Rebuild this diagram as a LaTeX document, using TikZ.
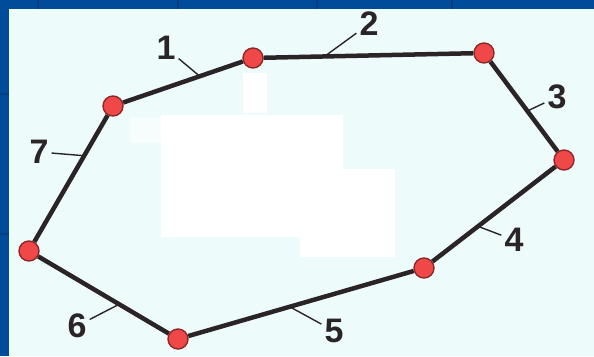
\documentclass[tikz,border=0pt]{standalone}
\usepackage{fontspec}
\setmainfont{Liberation Sans}
\usepackage{tikz}
\usetikzlibrary{calc}
\definecolor{slideBlue}{RGB}{0,76,155}
\definecolor{slideGrid}{RGB}{0,62,132}
\definecolor{panelCyan}{RGB}{237,251,250}
\definecolor{edgeDark}{RGB}{42,36,38}
\definecolor{nodeRed}{RGB}{240,72,72}
\definecolor{nodeRim}{RGB}{140,40,40}

\begin{document}
\begin{tikzpicture}[x=1pt, y=-1pt]
\tikzstyle{vertex}=[circle, fill=nodeRed, draw=nodeRim, line width=1.4pt, minimum size=20pt, inner sep=0pt]
\tikzstyle{side}=[line width=4.5pt, edgeDark]
\tikzstyle{lead}=[line width=1.4pt, edgeDark]
\tikzstyle{num}=[inner sep=3pt, text=edgeDark, font=\bfseries\fontsize{34}{34}\selectfont]

\useasboundingbox (0,0) rectangle (594,356);
% slide background and panel
\fill[slideBlue] (0,0) rectangle (594,356);
\foreach \gx in {38,178,317,452} \draw[slideGrid, line width=1.5pt] (\gx,0) -- (\gx,9);
\foreach \gy in {94,234} \draw[slideGrid, line width=1.5pt] (0,\gy) -- (9,\gy);
\fill[panelCyan] (9,9) rectangle (594,356);
% blanked areas
\fill[white] (243,73) rectangle (267,113);
\fill[white] (161,115) rectangle (343,237);
\fill[white] (343,169) rectangle (395,237);
\fill[white] (300,237) rectangle (395,257);
\fill[white, opacity=0.5] (130,117) rectangle (161,143);

% vertices
\node[vertex] (v1) at (253,58) {};
\node[vertex] (v2) at (484,53) {};
\node[vertex] (v3) at (564,160) {};
\node[vertex] (v4) at (424,268) {};
\node[vertex] (v5) at (178,339) {};
\node[vertex] (v6) at (29,251) {};
\node[vertex] (v7) at (113,106) {};

% sides
\draw[side] (v7) -- (v1);
\draw[side] (v1) -- (v2);
\draw[side] (v2) -- (v3);
\draw[side] (v3) -- (v4);
\draw[side] (v4) -- (v5);
\draw[side] (v5) -- (v6);
\draw[side] (v6) -- (v7);

% points on the sides
\path (v7) -- (v1) coordinate[pos=0.64] (e1);
\path (v1) -- (v2) coordinate[pos=0.29] (e2);
\path (v2) -- (v3) coordinate[pos=0.55] (e3);
\path (v3) -- (v4) coordinate[pos=0.63] (e4);
\path (v4) -- (v5) coordinate[pos=0.55] (e5);
\path (v6) -- (v5) coordinate[pos=0.62] (e6);
\path (v7) -- (v6) coordinate[pos=0.32] (e7);

% numbers
\node[num] (l1) at (166,48) {1};
\node[num] (l2) at (369,24) {2};
\node[num] (l3) at (557,97) {3};
\node[num] (l4) at (514,240) {4};
\node[num] (l5) at (334,331) {5};
\node[num] (l6) at (77,326) {6};
\node[num] (l7) at (39,152) {7};

\draw[lead] (l1) -- (e1);
\draw[lead] (l2) -- (e2);
\draw[lead] (l3) -- (e3);
\draw[lead] (l4) -- (e4);
\draw[lead] (l5) -- (e5);
\draw[lead] (l6) -- (e6);
\draw[lead] (l7) -- (e7);
\end{tikzpicture}
\end{document}
